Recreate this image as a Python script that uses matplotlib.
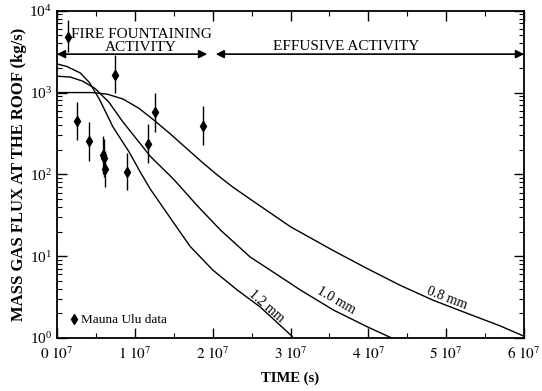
import matplotlib
matplotlib.use('Agg')
import matplotlib.pyplot as plt
from matplotlib.lines import Line2D
from matplotlib.ticker import FixedLocator, FuncFormatter, LogLocator, LogFormatterMathtext
import numpy as np

plt.rcParams['font.family'] = ['Liberation Serif', 'DejaVu Serif']
plt.rcParams['mathtext.fontset'] = 'stix'

# model curves (time in units of 1e7 s, flux in kg/s)
t_08 = [0, 0.45, 0.65, 0.85, 1.05, 1.25, 1.45, 1.65, 1.85, 2.05, 2.25, 2.48, 3.0, 3.55, 3.98, 4.41, 4.83, 5.27, 5.69, 6.0]
f_08 = [1000, 1000, 955, 832, 646, 457, 316, 214, 145, 100, 71, 50, 22.9, 11.7, 7.1, 4.4, 2.9, 2.0, 1.41, 1.05]

t_10 = [0, 0.17, 0.33, 0.49, 0.67, 0.84, 1.05, 1.2, 1.5, 1.8, 2.1, 2.48, 2.87, 3.12, 3.55, 3.98, 4.3]
f_10 = [1585, 1549, 1380, 1122, 759, 447, 251, 166, 87, 41.7, 20.9, 9.8, 5.6, 3.9, 2.2, 1.38, 1.0]

t_12 = [0, 0.125, 0.30, 0.42, 0.55, 0.72, 0.93, 1.07, 1.2, 1.52, 1.71, 2.0, 2.31, 2.61, 3.02]
f_12 = [2239, 2089, 1738, 1318, 813, 380, 186, 107, 66, 24, 13.2, 6.8, 3.9, 2.4, 1.05]

# Mauna Ulu data
t_obs = [0.137, 0.253, 0.415, 0.587, 0.604, 0.617, 0.745, 0.904, 1.166, 1.26, 1.88]
f_obs = [4790, 447, 257, 174, 158, 117, 1660, 107, 234, 575, 394]
f_lo = [3160, 263, 145, 102, 93, 71, 977, 65, 138, 331, 229]
f_hi = [7760, 776, 437, 295, 269, 195, 2880, 182, 417, 977, 676]

x_ticks = [0, 1, 2, 3, 4, 5, 6]

fig = plt.figure(figsize=(5.42, 3.91), dpi=100)
ax = fig.add_axes([0.105, 0.1355, 0.862, 0.837])

scale = 1e7
for t, f in [(t_08, f_08), (t_10, f_10), (t_12, f_12)]:
    ax.plot(np.array(t) * scale, f, color='black', lw=1.0)

f_obs_a = np.array(f_obs)
yerr = [f_obs_a - np.array(f_lo), np.array(f_hi) - f_obs_a]
ax.errorbar(np.array(t_obs) * scale, f_obs, yerr=yerr, fmt='d', color='black',
            ms=5.5, elinewidth=1.0, capsize=0)

ax.set_yscale('log')
ax.set_xlim(0, 6e7)
ax.set_ylim(1, 1e4)

ax.xaxis.set_major_locator(FixedLocator([v * scale for v in x_ticks]))
ax.xaxis.set_minor_locator(FixedLocator([(v + 0.5) * scale for v in x_ticks[:-1]]))
ax.xaxis.set_major_formatter(FuncFormatter(lambda v, p: r'$%d\ 10^{7}$' % round(v / scale)))
ax.yaxis.set_major_locator(LogLocator(base=10))
ax.yaxis.set_minor_locator(LogLocator(base=10, subs=np.arange(2, 10)))
ax.yaxis.set_major_formatter(LogFormatterMathtext())

ax.tick_params(which='both', direction='in', top=True, right=True, labelsize=11)
ax.tick_params(which='major', length=7, width=1.0)
ax.tick_params(which='minor', length=3.5, width=0.8)
ax.tick_params(axis='x', pad=5)
for s in ax.spines.values():
    s.set_linewidth(1.3)

ax.set_xlabel('TIME (s)', fontsize=10.5, fontweight='bold', labelpad=7)
ax.set_ylabel('MASS GAS FLUX AT THE ROOF (kg/s)', fontsize=12, fontweight='bold', labelpad=2)

# activity arrows
arr = dict(arrowstyle='<|-|>', color='black', lw=1.2, mutation_scale=12, shrinkA=0, shrinkB=0)
ax.annotate('', xy=(0, 2950), xytext=(1.93e7, 2950), arrowprops=arr)
ax.annotate('', xy=(2.04e7, 2950), xytext=(6e7, 2950), arrowprops=arr)
ax.text(1.08e7, 3200, 'FIRE FOUNTAINING\nACTIVITY', ha='center', va='baseline',
        fontsize=11, linespacing=1.05)
ax.text(3.72e7, 3350, 'EFFUSIVE ACTIVITY', ha='center', va='baseline', fontsize=11)

# curve labels
ax.text(2.69e7, 2.45, '1.2 mm', rotation=-41, ha='center', va='center', fontsize=10)
ax.text(3.59e7, 2.9, '1.0 mm', rotation=-30, ha='center', va='center', fontsize=10)
ax.text(5.01e7, 3.1, '0.8 mm', rotation=-21, ha='center', va='center', fontsize=10)

handle = Line2D([], [], marker='d', color='black', ls='none', ms=5.5)
ax.legend([handle], ['Mauna Ulu data'], loc='lower left', frameon=False,
          fontsize=9.5, handletextpad=0.1, handlelength=0.8, borderaxespad=0.5)

fig.savefig('out.png', dpi=100)
